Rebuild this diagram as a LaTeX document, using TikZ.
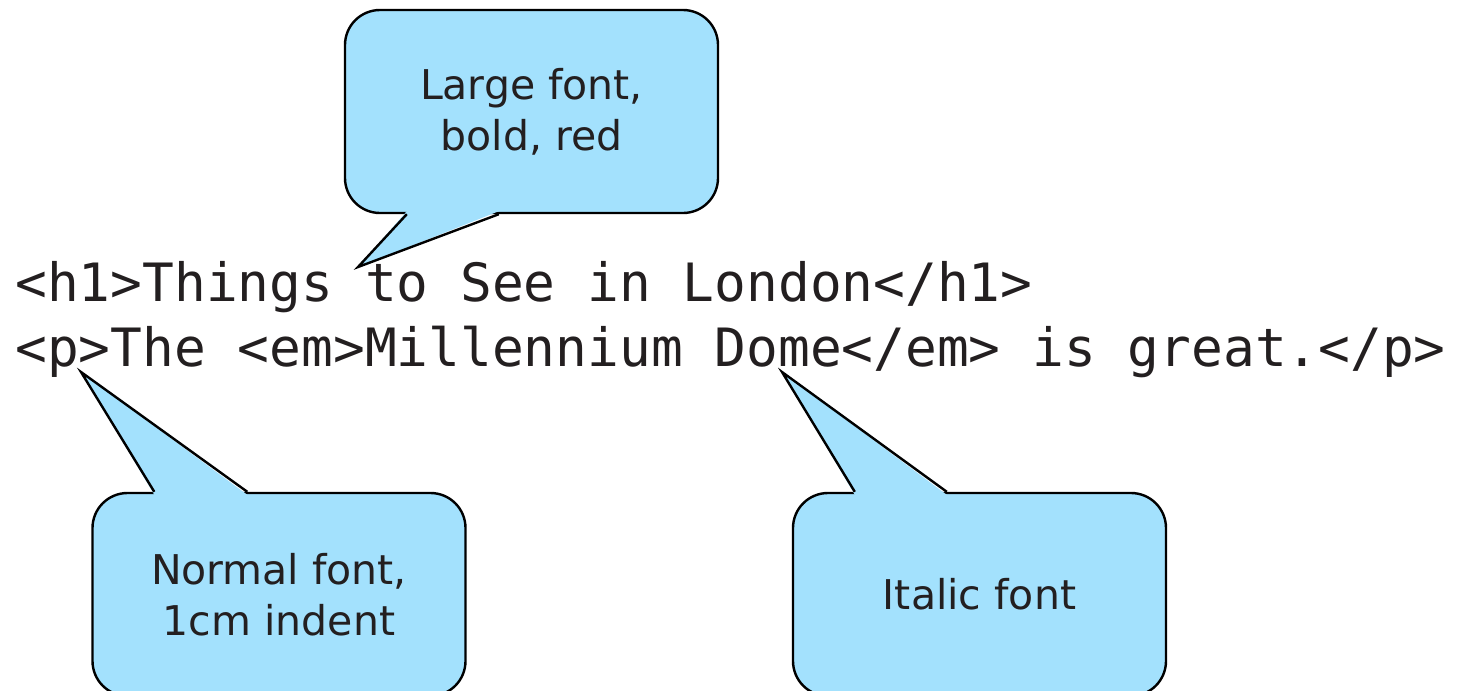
\documentclass[tikz,border=0pt]{standalone}
\usepackage{fontspec}
\newfontfamily\codefont{DejaVu Sans Mono}
\newfontfamily\notefont{DejaVu Sans}
\usetikzlibrary{positioning,calc}
\definecolor{bubblefill}{RGB}{163,225,253}
\definecolor{inkgray}{RGB}{35,31,32}
\tikzset{
  bubble/.style={draw=black, line width=1.2pt, fill=bubblefill, rounded corners=17.5pt,
    minimum width=186.5pt, minimum height=101.5pt, align=center, text=inkgray,
    font=\notefont\fontsize{20.5}{25.5}\selectfont},
  tail/.style={draw=black, line width=1.2pt},
  codeline/.style={anchor=base west, inner sep=0pt, text=inkgray,
    font=\codefont\fontsize{26.4}{32}\selectfont}
}
\begin{document}
\begin{tikzpicture}[x=0.5pt, y=-0.5pt]
\useasboundingbox (0,0) rectangle (1463,691);
% the html source
\node[codeline] (h1line) at (15,301) {<h1>Things to See in London</h1>};
\node[codeline] (pline) at (15,366) {<p>The <em>Millennium Dome</em> is great.</p>};
% callout boxes
\node[bubble] (large) at (531.5,111.5) {Large font,\\bold, red};
\node[bubble] (normal) at (279,594.5) {Normal font,\\1cm indent};
\node[bubble] (italic) at (979.5,594.5) {Italic font};
% tips of the tails
\coordinate (h1tip) at (358,267);
\coordinate (ptip) at (81,372);
\coordinate (emtip) at (782,372);
% tails
\fill[bubblefill] ($(large.south west)+(63,-3)$) -- (h1tip) -- ($(large.south west)+(155,-3)$) -- cycle;
\draw[tail] ($(large.south west)+(63,0)$) -- (h1tip) -- ($(large.south west)+(155,0)$);
\fill[bubblefill] ($(normal.north west)+(63,3)$) -- (ptip) -- ($(normal.north west)+(156,3)$) -- cycle;
\draw[tail] ($(normal.north west)+(63,0)$) -- (ptip) -- ($(normal.north west)+(156,0)$);
\fill[bubblefill] ($(italic.north west)+(63,3)$) -- (emtip) -- ($(italic.north west)+(155,3)$) -- cycle;
\draw[tail] ($(italic.north west)+(63,0)$) -- (emtip) -- ($(italic.north west)+(155,0)$);
\end{tikzpicture}
\end{document}
